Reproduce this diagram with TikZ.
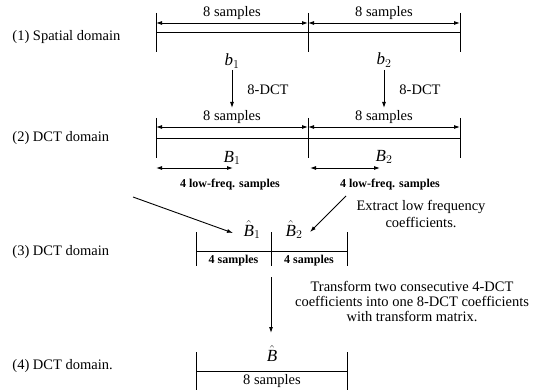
\documentclass[tikz,border=0pt]{standalone}
\usepackage{fontspec}
\setmainfont{Liberation Serif}
\usepackage{amsmath}
\usetikzlibrary{arrows.meta}
\newcommand{\itl}[1]{\text{\itshape #1}}
\begin{document}
\begin{tikzpicture}[x=1pt,y=-1pt,
  line width=0.9pt,
  tipend/.style={-{Latex[length=6pt,width=4pt]}},
  dimline/.style={{Latex[length=6pt,width=4pt]}-{Latex[length=6pt,width=4pt]}},
  lbl/.style={font=\fontsize{14.5}{17}\selectfont, inner sep=0pt},
  rowlbl/.style={font=\fontsize{14.5}{17}\selectfont, inner sep=0pt, anchor=west},
  smalllbl/.style={font=\fontsize{12}{14}\selectfont\bfseries, inner sep=0pt},
  mlbl/.style={font=\fontsize{17}{20}\selectfont, inner sep=0pt, anchor=base},
]
\useasboundingbox (0,0) rectangle (534,390);

% ---------- row labels
\node[rowlbl] (r1) at (12,37) {(1) Spatial domain};
\node[rowlbl] (r2) at (12,138) {(2) DCT domain};
\node[rowlbl] (r3) at (12,252) {(3) DCT domain};
\node[rowlbl] (r4) at (12,366) {(4) DCT domain.};

% ---------- row 1
\coordinate (t1a) at (156,13); \coordinate (t1b) at (156,52);
\coordinate (t2a) at (308,13); \coordinate (t2b) at (308,52);
\coordinate (t3a) at (460,13); \coordinate (t3b) at (460,52);
\draw (t1a) -- (t1b);
\draw (t2a) -- (t2b);
\draw (t3a) -- (t3b);
\coordinate (m1a) at (156,32); \coordinate (m1b) at (460,32);
\draw (m1a) -- (m1b);
\coordinate (d1a) at (156,23); \coordinate (d1b) at (308,23); \coordinate (d1c) at (460,23);
\draw[dimline] (d1a) -- (d1b);
\draw[dimline] (d1b) -- (d1c);
\node[lbl] (s1a) at (232,13) {8 samples};
\node[lbl] (s1b) at (384,13) {8 samples};
\node[mlbl] (b1) at (232,66) {$\itl{b}_{1}$};
\node[mlbl] (b2) at (384,65) {$\itl{b}_{2}$};

% 8-DCT arrows
\coordinate (ar1a) at (232,70); \coordinate (ar1b) at (232,108);
\coordinate (ar2a) at (384,70); \coordinate (ar2b) at (384,108);
\draw[tipend] (ar1a) -- (ar1b);
\draw[tipend] (ar2a) -- (ar2b);
\node[lbl] (dct1) at (268,90) {8-DCT};
\node[lbl] (dct2) at (420,90) {8-DCT};

% ---------- row 2
\coordinate (u1a) at (156,118); \coordinate (u1b) at (156,158);
\coordinate (u2a) at (308,118); \coordinate (u2b) at (308,158);
\coordinate (u3a) at (460,118); \coordinate (u3b) at (460,158);
\draw (u1a) -- (u1b);
\draw (u2a) -- (u2b);
\draw (u3a) -- (u3b);
\coordinate (m2a) at (156,138); \coordinate (m2b) at (460,138);
\draw (m2a) -- (m2b);
\coordinate (d2a) at (156,127); \coordinate (d2b) at (308,127); \coordinate (d2c) at (460,127);
\draw[dimline] (d2a) -- (d2b);
\draw[dimline] (d2b) -- (d2c);
\node[lbl] (s2a) at (232,117) {8 samples};
\node[lbl] (s2b) at (384,117) {8 samples};
\node[mlbl] (B1) at (232,162) {$\itl{B}_{1}$};
\node[mlbl] (B2) at (384,161) {$\itl{B}_{2}$};

\coordinate (lf1a) at (156,168); \coordinate (lf1b) at (233,168);
\coordinate (lf2a) at (310,168); \coordinate (lf2b) at (380,168);
\draw[dimline] (lf1a) -- (lf1b);
\draw[dimline] (lf2a) -- (lf2b);
\node[smalllbl] (lfl1) at (230,185) {4 low-freq. samples};
\node[smalllbl] (lfl2) at (390,185) {4 low-freq. samples};

% diagonal arrows
\coordinate (dg1a) at (133,197); \coordinate (dg1b) at (233,233);
\coordinate (dg2a) at (346,196); \coordinate (dg2b) at (310,232);
\draw[tipend] (dg1a) -- (dg1b);
\draw[tipend] (dg2a) -- (dg2b);
\node[lbl, align=center] (extract) at (421,213.5) {Extract low frequency\\coefficients.};

% ---------- row 3
\node[mlbl] (Bh1) at (252,236) {$\hat{\itl{B}}_{1}$};
\node[mlbl] (Bh2) at (294,236) {$\hat{\itl{B}}_{2}$};
\coordinate (v1a) at (196,232); \coordinate (v1b) at (196,266);
\coordinate (v2a) at (271,232); \coordinate (v2b) at (271,266);
\coordinate (v3a) at (347,232); \coordinate (v3b) at (347,266);
\draw (v1a) -- (v1b);
\draw (v2a) -- (v2b);
\draw (v3a) -- (v3b);
\coordinate (m3a) at (196,251); \coordinate (m3b) at (347,251);
\draw (m3a) -- (m3b);
\node[smalllbl] (fs1) at (233.5,261) {4 samples};
\node[smalllbl] (fs2) at (309,261) {4 samples};

% transform arrow
\coordinate (tr1) at (271,277); \coordinate (tr2) at (271,333);
\draw[tipend] (tr1) -- (tr2);
\node[font=\fontsize{14.5}{15}\selectfont, inner sep=0pt, align=center] (transform) at (412,301)
  {Transform two consecutive 4-DCT\\coefficients into one 8-DCT coefficients\\with transform matrix.};

% ---------- row 4
\node[mlbl] (Bh) at (272,361) {$\hat{\itl{B}}$};
\coordinate (w1a) at (196,352); \coordinate (w1b) at (196,390);
\coordinate (w2a) at (347,352); \coordinate (w2b) at (347,390);
\draw (w1a) -- (w1b);
\draw (w2a) -- (w2b);
\coordinate (m4a) at (196,371); \coordinate (m4b) at (347,371);
\draw (m4a) -- (m4b);
\node[lbl] (s4) at (272,381) {8 samples};
\end{tikzpicture}
\end{document}
